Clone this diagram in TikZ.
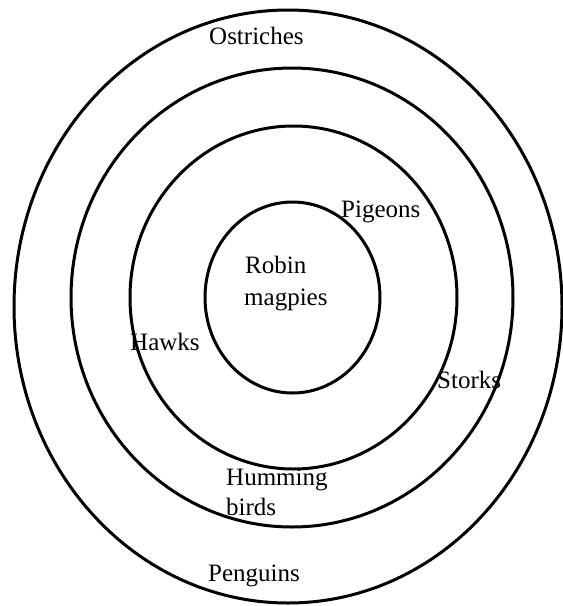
\documentclass[tikz,border=0pt]{standalone}
\usepackage{fontspec}
\setmainfont{Liberation Serif}
\begin{document}
\begin{tikzpicture}[x=1pt,y=-1pt,
  ring/.style={line width=3pt,draw=black},
  lab/.style={anchor=base west,inner sep=0pt,font=\fontsize{25}{30}\selectfont,align=left}]
\useasboundingbox (0,0) rectangle (563,606);
\draw[ring] (288,306.5) ellipse [x radius=274, y radius=296.5];
\draw[ring] (292,297.5) ellipse [x radius=221, y radius=229.5];
\draw[ring] (293.5,297.5) ellipse [x radius=163.5, y radius=171.5];
\draw[ring] (292.5,297.5) ellipse [x radius=87.5, y radius=95.5];
\node[lab] (ostriches) at (209,44) {Ostriches};
\node[lab] (pigeons) at (341,217) {Pigeons};
\node[lab] (robin) at (245,273) {Robin};
\node[lab] (magpies) at (244,305) {magpies};
\node[lab] (hawks) at (130,350) {Hawks};
\node[lab] (storks) at (437,388) {Storks};
\node[lab] (humming) at (226,485) {Humming};
\node[lab] (birds) at (226,515) {birds};
\node[lab] (penguins) at (208,581) {Penguins};
\end{tikzpicture}
\end{document}
